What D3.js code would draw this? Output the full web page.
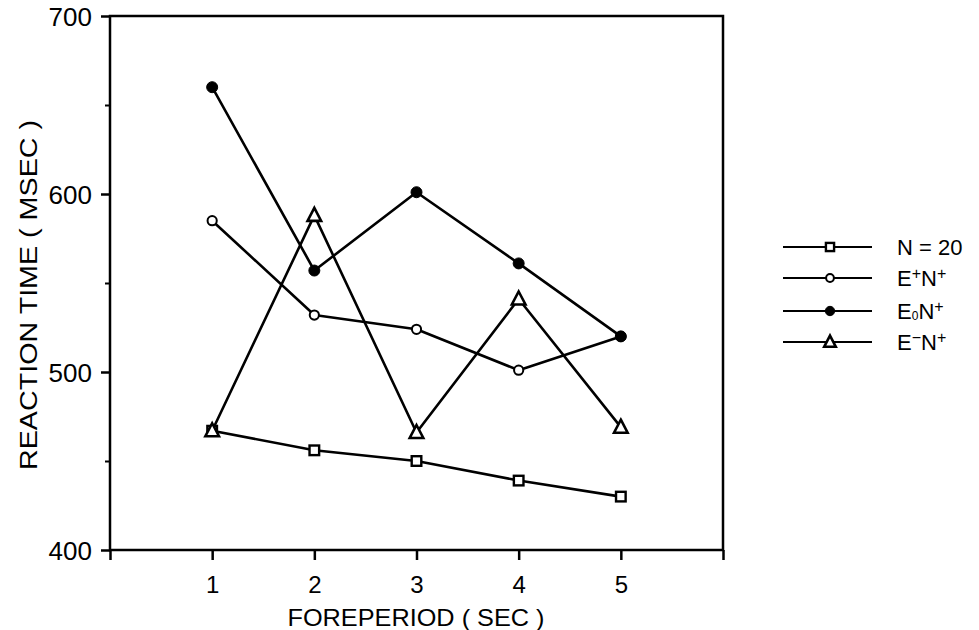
<!DOCTYPE html>
<html>
<head>
<meta charset="utf-8">
<script src="https://cdn.jsdelivr.net/npm/d3@7"></script>
<style>
  html, body { margin: 0; padding: 0; background: #fff; }
  svg { display: block; }
  text { font-family: "Liberation Sans", Arial, Helvetica, sans-serif; fill: #000; }
</style>
</head>
<body>
<svg id="chart" width="979" height="630"></svg>
<script>
// ---- data ----
const foreperiods = [1, 2, 3, 4, 5];
const xTickValues = [0, 1, 2, 3, 4, 5, 6];
const xTickLabels = ["", "1", "2", "3", "4", "5", ""];
const yMajorTicks = [400, 500, 600, 700];
const yMinorTicks = [450, 550, 650];
const seriesNames = ["N = 20", "E+N+", "E0N+", "E-N+"];
const n20   = [467, 456, 450, 439, 430];
const ePlus = [585, 532, 524, 501, 520];
const eZero = [660, 557, 601, 561, 520];
const eMinus = [467, 588, 466, 541, 469];
const xTitle = "FOREPERIOD ( SEC )";
const yTitle = "REACTION TIME ( MSEC )";

const svg = d3.select("#chart");
const L = 110, R = 723, T = 16, B = 550;
const x = d3.scaleLinear().domain([0, 6]).range([L, R]);
const y = d3.scaleLinear().domain([400, 700]).range([B, T]);

// frame
svg.append("rect").attr("x", L).attr("y", T).attr("width", R - L).attr("height", B - T)
  .attr("fill", "none").attr("stroke", "#000").attr("stroke-width", 2.5);

// x axis
const xAxis = d3.axisBottom(x).tickValues(xTickValues)
  .tickFormat((d, i) => xTickLabels[i]).tickSize(10).tickPadding(16);
const gx = svg.append("g").attr("transform", `translate(0,${B})`).call(xAxis);
gx.select(".domain").remove();
gx.selectAll(".tick line").attr("stroke", "#000").attr("stroke-width", 2.5);
gx.selectAll(".tick text").style("font-size", "24px").attr("font-family", "Liberation Sans, Arial, sans-serif");

// y axis major
const yAxis = d3.axisLeft(y).tickValues(yMajorTicks).tickSize(9).tickPadding(9);
const gy = svg.append("g").attr("transform", `translate(${L},0)`).call(yAxis);
gy.select(".domain").remove();
gy.selectAll(".tick line").attr("stroke", "#000").attr("stroke-width", 2.5);
gy.selectAll(".tick text").style("font-size", "26px").attr("dy", "0.36em")
  .attr("font-family", "Liberation Sans, Arial, sans-serif");
// y minor
const gym = svg.append("g").attr("transform", `translate(${L},0)`)
  .call(d3.axisLeft(y).tickValues(yMinorTicks).tickSize(5).tickFormat(""));
gym.select(".domain").remove();
gym.selectAll(".tick line").attr("stroke", "#000").attr("stroke-width", 2);

// titles
svg.append("text").attr("x", 416).attr("y", 626).attr("text-anchor", "middle")
  .style("font-size", "24px").attr("textLength", 257).attr("lengthAdjust", "spacingAndGlyphs")
  .text(xTitle);
svg.append("text").attr("transform", "translate(37,295) rotate(-90)").attr("text-anchor", "middle")
  .style("font-size", "23px").attr("textLength", 350).attr("lengthAdjust", "spacingAndGlyphs")
  .text(yTitle);

// markers
function drawMarker(g, type, cx, cy, scale) {
  const s = scale || 1;
  if (type === "square") {
    const h = 4.8 * s;
    g.append("rect").attr("x", cx - h).attr("y", cy - h).attr("width", 2 * h).attr("height", 2 * h)
      .attr("fill", "#fff").attr("stroke", "#000").attr("stroke-width", 2.4);
  } else if (type === "open") {
    g.append("circle").attr("cx", cx).attr("cy", cy).attr("r", 4.6 * s)
      .attr("fill", "#fff").attr("stroke", "#000").attr("stroke-width", 2);
  } else if (type === "filled") {
    g.append("circle").attr("cx", cx).attr("cy", cy).attr("r", 5.5 * s)
      .attr("fill", "#000").attr("stroke", "#000").attr("stroke-width", 1);
  } else if (type === "triangle") {
    const hw = 6.8 * s, top = -7.5 * s, bot = 5.5 * s;
    g.append("path").attr("d", `M${cx},${cy + top}L${cx + hw},${cy + bot}L${cx - hw},${cy + bot}Z`)
      .attr("fill", "#fff").attr("stroke", "#000").attr("stroke-width", 2.6).attr("stroke-linejoin", "miter");
  }
}

const series = [
  { vals: n20, marker: "square" },
  { vals: ePlus, marker: "open" },
  { vals: eZero, marker: "filled" },
  { vals: eMinus, marker: "triangle" }
];
const line = d3.line().x((d, i) => x(foreperiods[i])).y(d => y(d));
const gl = svg.append("g");
series.forEach(s => {
  gl.append("path").attr("d", line(s.vals)).attr("fill", "none")
    .attr("stroke", "#000").attr("stroke-width", 2.6).attr("stroke-linejoin", "round");
});
const gm = svg.append("g");
series.forEach(s => {
  s.vals.forEach((v, i) => drawMarker(gm, s.marker, x(foreperiods[i]), y(v)));
});

// legend
const legY = [247, 278, 311, 342];
const lg = svg.append("g");
series.forEach((s, i) => {
  const yy = legY[i];
  lg.append("line").attr("x1", 783).attr("x2", 872).attr("y1", yy).attr("y2", yy)
    .attr("stroke", "#000").attr("stroke-width", 1.8);
  drawMarker(lg, s.marker, 830, yy, 0.85);
  const t = lg.append("text").attr("x", 897).attr("y", yy + 8).style("font-size", "22px");
  const name = seriesNames[i];
  if (i === 0) {
    t.text(name);
  } else {
    const mid = name[1];
    t.append("tspan").text("E");
    if (mid === "0") {
      t.append("tspan").text("0").style("font-size", "12px").attr("dy", 1);
      t.append("tspan").text("N").attr("dy", -1);
    } else {
      t.append("tspan").text(mid === "+" ? "+" : "\u2212").style("font-size", "16px").attr("dy", -7);
      t.append("tspan").text("N").attr("dy", 7);
    }
    t.append("tspan").text("+").style("font-size", "16px").attr("dy", -7);
  }
});
</script>
</body>
</html>
